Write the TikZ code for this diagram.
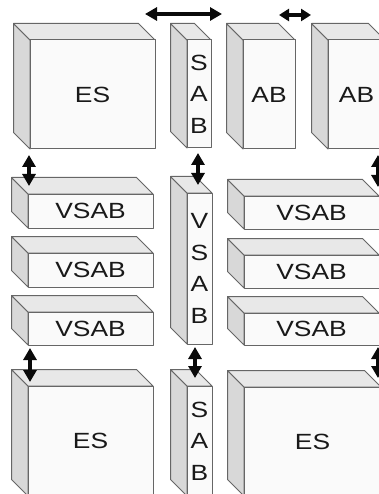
\documentclass[tikz,border=0pt]{standalone}
\usepackage{fontspec}
\newfontfamily\boxfont[FakeStretch=1.2]{Liberation Sans}
\usetikzlibrary{arrows.meta}

\definecolor{edgec}{HTML}{666666}
\definecolor{frontc}{HTML}{FAFAFA}
\definecolor{topc}{HTML}{E8E8E8}
\definecolor{sidec}{HTML}{D8D8D8}
\definecolor{arrowc}{HTML}{0A0A0A}

\newcommand\dep{16.5}
% #1 name, #2/#3 front top-left, #4/#5 front bottom-right, #6 label
\newcommand\cuboid[6]{%
  \filldraw[faceline, fill=sidec] ({#2-\dep},{#3-\dep}) -- (#2,#3) -- (#2,#5) -- ({#2-\dep},{#5-\dep}) -- cycle;
  \filldraw[faceline, fill=topc] ({#2-\dep},{#3-\dep}) -- ({#4-\dep},{#3-\dep}) -- (#4,#3) -- (#2,#3) -- cycle;
  \filldraw[faceline, fill=frontc] (#2,#3) rectangle (#4,#5);
  \node[boxlabel] (#1) at ({(#2+#4)/2},{(#3+#5)/2}) {#6};
}

\tikzset{
  faceline/.style={draw=edgec, line width=1pt, line join=round},
  boxlabel/.style={inner sep=0pt, align=center, text=black!90,
    font=\boxfont\fontsize{22}{31.5}\selectfont},
  link/.style={draw=arrowc, line width=3.2pt,
    {Triangle[length=12pt,width=13pt]}-{Triangle[length=12pt,width=13pt]}},
  shortlink/.style={draw=arrowc, line width=3.2pt,
    {Triangle[length=10pt,width=12pt]}-{Triangle[length=10pt,width=12pt]}}
}

\begin{document}
\begin{tikzpicture}[x=1pt,y=-1pt]
\useasboundingbox (0,0) rectangle (379,494);
\clip (0,0) rectangle (379,494);

% top row
\cuboid{es1}{30}{40}{155}{149}{ES}
\cuboid{sab1}{187}{40}{211}{148}{S\\A\\B}
\cuboid{ab1}{243}{40}{295}{149}{AB}
\cuboid{ab2}{328}{40}{385}{149}{AB}

% middle row
\cuboid{vl1}{28}{194}{153}{228}{VSAB}
\cuboid{vl2}{28}{253}{153}{287}{VSAB}
\cuboid{vl3}{28}{312}{153}{345}{VSAB}
\cuboid{vsab}{187}{193}{212}{344}{V\\S\\A\\B}
\cuboid{vr1}{244}{196}{379}{229}{VSAB}
\cuboid{vr2}{244}{255}{379}{288}{VSAB}
\cuboid{vr3}{244}{313}{379}{345}{VSAB}

% bottom row
\cuboid{es2}{28}{386}{153}{496}{ES}
\cuboid{sab2}{187}{386}{212}{496}{S\\A\\B}
\cuboid{es3}{244}{387}{381}{496}{ES}

% arrow end points
\coordinate (hA1) at (145,14);  \coordinate (hA2) at (222,14);
\coordinate (hB1) at (279,15);  \coordinate (hB2) at (311,15);
\coordinate (vL1) at (29,155);  \coordinate (vL2) at (29,186);
\coordinate (vL3) at (30,348);  \coordinate (vL4) at (30,382);
\coordinate (vM1) at (198,153); \coordinate (vM2) at (198,185);
\coordinate (vM3) at (195,347); \coordinate (vM4) at (195,378);
\coordinate (vR1) at (378,155); \coordinate (vR2) at (378,187);
\coordinate (vR3) at (378,347); \coordinate (vR4) at (378,378);

\draw[link] (hA1) -- (hA2);
\draw[shortlink] (hB1) -- (hB2);
\draw[link] (vL1) -- (vL2);
\draw[link] (vL3) -- (vL4);
\draw[link] (vM1) -- (vM2);
\draw[link] (vM3) -- (vM4);
\draw[link] (vR1) -- (vR2);
\draw[link] (vR3) -- (vR4);
\end{tikzpicture}
\end{document}
